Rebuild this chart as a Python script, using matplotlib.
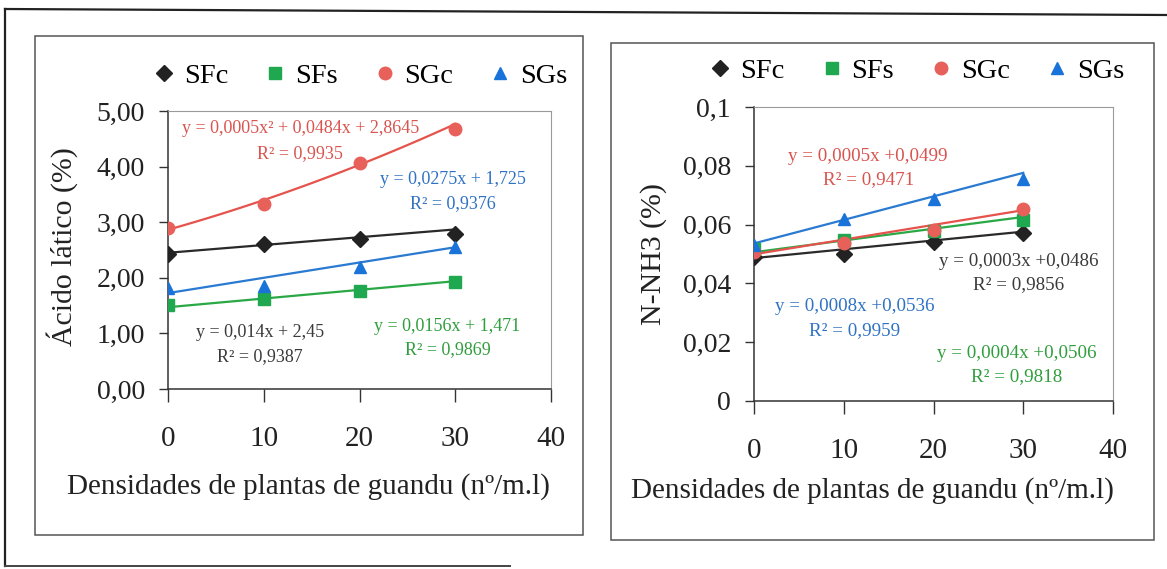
import numpy as np
import matplotlib.pyplot as plt
from matplotlib.lines import Line2D
from matplotlib.patches import Rectangle

plt.rcParams['font.family'] = ['Liberation Serif', 'DejaVu Serif']

# densidades de plantas de guandu (nº/m.l)
dens = [0, 10, 20, 30]
series = ['SFc', 'SFs', 'SGc', 'SGs']

# ácido lático (%)
lat_sfc = [2.43, 2.61, 2.70, 2.78]
lat_sfs = [1.51, 1.61, 1.77, 1.93]
lat_sgc = [2.90, 3.33, 4.07, 4.68]
lat_sgs = [1.82, 1.86, 2.20, 2.56]

# N-NH3 (%)
nh3_sfc = [0.0489, 0.0501, 0.0542, 0.0573]
nh3_sfs = [0.0517, 0.0546, 0.0578, 0.0615]
nh3_sgc = [0.0507, 0.0538, 0.0583, 0.0653]
nh3_sgs = [0.0530, 0.0619, 0.0687, 0.0755]

# coeficientes das linhas de tendência (maior grau primeiro) e R²
lat_fit = {'SFc': ([0.014, 2.45], 0.9387),
           'SFs': ([0.0156, 1.471], 0.9869),
           'SGc': ([0.0005, 0.0484, 2.8645], 0.9935),
           'SGs': ([0.0275, 1.725], 0.9376)}
nh3_fit = {'SFc': ([0.0003, 0.0486], 0.9856),
           'SFs': ([0.0004, 0.0506], 0.9818),
           'SGc': ([0.0005, 0.0499], 0.9471),
           'SGs': ([0.0008, 0.0536], 0.9959)}

lat_labels = ['y = 0,014x + 2,45', 'y = 0,0156x + 1,471',
              'y = 0,0005x² + 0,0484x + 2,8645', 'y = 0,0275x + 1,725']
nh3_labels = ['y = 0,0003x +0,0486', 'y = 0,0004x +0,0506',
              'y = 0,0005x +0,0499', 'y = 0,0008x +0,0536']

markers = {'SFc': 'D', 'SFs': 's', 'SGc': 'o', 'SGs': '^'}
mcolors = {'SFc': '#222222', 'SFs': '#1fa84f', 'SGc': '#e8605a', 'SGs': '#1a73d9'}
lcolors = {'SFc': '#2a2a2a', 'SFs': '#29a845', 'SGc': '#e5534c', 'SGs': '#2a7ad2'}
tcolors = {'SFc': '#3a3a3a', 'SFs': '#2f9e3c', 'SGc': '#d9544f', 'SGs': '#2f72c4'}
msizes = {'SFc': 8, 'SFs': 8, 'SGc': 9, 'SGs': 9}

W, H = 1167, 569
fig = plt.figure(figsize=(W / 100, H / 100), dpi=100)


def fx(px):
    return px / W


def fy(py):
    return 1 - py / H


# molduras
fig.add_artist(Line2D([fx(5), fx(1167)], [fy(9), fy(15)], color='#222', lw=1.6))
fig.add_artist(Line2D([fx(5), fx(5)], [fy(9), fy(566)], color='#222', lw=1.6))
fig.add_artist(Line2D([fx(5), fx(510)], [fy(566), fy(566)], color='#444', lw=1.4))
for x0, y0, x1, y1 in [(35, 36, 583, 535), (611, 43, 1154, 540)]:
    fig.add_artist(Rectangle((fx(x0), fy(y1)), fx(x1) - fx(x0), fy(y0) - fy(y1),
                             fill=False, ec='#555', lw=1.1))

ax1 = fig.add_axes([fx(168), fy(389), fx(551) - fx(168), fy(111) - fy(389)])
ax2 = fig.add_axes([fx(754), fy(401), fx(1113) - fx(754), fy(107) - fy(401)])

xs = np.linspace(0, 30, 61)


def draw(ax, data, fits, eq_labels, eq_pos, eq_size):
    for i, name in enumerate(series):
        coefs, r2 = fits[name]
        ax.plot(xs, np.polyval(coefs, xs), color=lcolors[name], lw=1.6, zorder=2)
        ax.plot(dens, data[i], ls='none', marker=markers[name], ms=msizes[name],
                color=mcolors[name], label=name, zorder=3)
        ex, ey, rx, ry = eq_pos[name]
        ax.text(ex, ey, eq_labels[i], color=tcolors[name], fontsize=eq_size,
                ha='center', va='center')
        ax.text(rx, ry, 'R² = ' + f'{r2:.4f}'.replace('.', ','),
                color=tcolors[name], fontsize=eq_size, ha='center', va='center')

    ax.set_xlim(0, 40)
    ax.set_xticks([0, 10, 20, 30, 40])
    for s in ['top', 'right']:
        ax.spines[s].set_color('#9a9a9a')
    for s in ['left', 'bottom']:
        ax.spines[s].set_color('#333')
        ax.spines[s].set_linewidth(1.1)
    ax.tick_params(axis='x', direction='out', length=9, width=1, pad=18,
                   labelsize=21, colors='#333', labelcolor='#222')
    ax.tick_params(axis='y', direction='out', length=6.5, width=1, pad=10,
                   labelsize=20, colors='#333', labelcolor='#222')
    ax.set_xlabel('Densidades de plantas de guandu (nº/m.l)', fontsize=21,
                  color='#222')
    ax.legend(loc='center', ncol=4, frameon=False, fontsize=20.5,
              handlelength=0.6, handletextpad=0.4, columnspacing=1.35,
              borderaxespad=0)


draw(ax1, [lat_sfc, lat_sfs, lat_sgc, lat_sgs], lat_fit, lat_labels,
     {'SFc': (9.6, 1.01, 9.6, 0.59), 'SFs': (29.2, 1.12, 29.2, 0.70),
      'SGc': (13.8, 4.68, 13.8, 4.24), 'SGs': (29.8, 3.76, 29.7, 3.33)}, 13)
ax1.set_ylim(0, 5)
ax1.set_yticks([0, 1, 2, 3, 4, 5])
ax1.set_yticklabels(['0,00', '1,00', '2,00', '3,00', '4,00', '5,00'])
ax1.set_ylabel('Ácido lático (%)', fontsize=21.5, color='#222')
ax1.yaxis.set_label_coords(-0.235, 0.511)
ax1.xaxis.set_label_coords(0.366, -0.302)
ax1.get_legend().set_bbox_to_anchor((0.505, 1.126))

draw(ax2, [nh3_sfc, nh3_sfs, nh3_sgc, nh3_sgs], nh3_fit, nh3_labels,
     {'SFc': (29.5, 0.0476, 29.5, 0.0395), 'SFs': (29.3, 0.0163, 29.3, 0.0082),
      'SGc': (12.7, 0.0833, 12.8, 0.0752), 'SGs': (11.25, 0.0320, 11.25, 0.0238)},
     13.7)
ax2.set_ylim(0, 0.1)
ax2.set_yticks([0, 0.02, 0.04, 0.06, 0.08, 0.1])
ax2.set_yticklabels(['0', '0,02', '0,04', '0,06', '0,08', '0,1'])
ax2.set_ylabel('N-NH3 (%)', fontsize=21.5, color='#222')
ax2.yaxis.set_label_coords(-0.242, 0.5)
ax2.xaxis.set_label_coords(0.329, -0.259)
ax2.get_legend().set_bbox_to_anchor((0.457, 1.122))

fig.savefig('out.png', dpi=100)
